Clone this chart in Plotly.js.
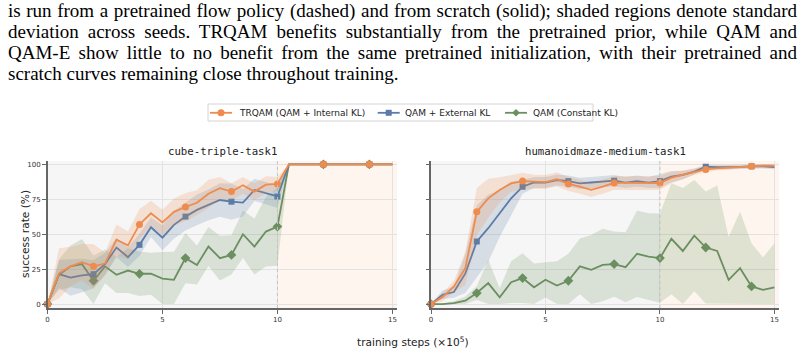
<!DOCTYPE html>
<html><head><meta charset="utf-8">
<script src="https://cdn.plot.ly/plotly-3.0.1.min.js"></script>
<style>
html,body{margin:0;padding:0;background:#fff;}
#wrap{position:relative;width:804px;height:353px;overflow:hidden;}
#chart{position:absolute;left:0;top:0;width:804px;height:353px;}
#cap{position:absolute;left:8px;top:0px;font-family:"Liberation Serif","Times New Roman",serif;font-size:19px;line-height:21px;color:#000;z-index:5;pointer-events:none;transform-origin:0 0;}
#cap div{white-space:nowrap;}
</style></head><body>
<div id="wrap"><div id="chart"></div><div id="cap"></div></div>
<script>
// ---------- caption ----------
const captionLines = [
  "is run from a pretrained flow policy (dashed) and from scratch (solid); shaded regions denote standard",
  "deviation across seeds. TRQAM benefits substantially from the pretrained prior, while QAM and",
  "QAM-E show little to no benefit from the same pretrained initialization, with their pretrained and",
  "scratch curves remaining close throughout training."
];

// ---------- data ----------
const steps = [0,0.5,1,1.5,2,2.5,3,3.5,4,4.5,5,5.5,6,6.5,7,7.5,8,8.5,9,9.5,10,10.5,11,11.5,12,12.5,13,13.5,14,14.5,15];
const xTicks = [0,5,10,15];
const yTicks = [0,25,50,75,100];
const taskNames = ["cube-triple-task1","humanoidmaze-medium-task1"];
const methodNames = ["TRQAM (QAM + Internal KL)","QAM + External KL","QAM (Constant KL)"];

// cube-triple-task1
const cubeTRQAM    = [0,22,27,30,27,29,46,42,57,65,58.5,66,69.5,72.5,79,83,80.5,85,80.5,85.5,86,100,100,100,100,100,100,100,100,100,100];
const cubeTRQAMStd = [0,18,14,13,16,8,11,10,11,9,9,9.5,10,9,10,8,6,6,6,6,5,0,0,0,0,0,0,0,0,0,0];
const cubeExtKL    = [0,21.5,19,20.5,21.4,28.6,40.5,33.6,42.4,55,47.5,56.7,62.6,67.4,71,74.5,73.3,72.6,81.7,79.3,77,100,100,100,100,100,100,100,100,100,100];
const cubeExtKLStd = [0,10,13,12,10,8,7,7,8,7,9,10,10,11,11,12,13,10,8,8,8,0,0,0,0,0,0,0,0,0,0];
const cubeConst    = [0,21,27,28.6,16.7,27,21,24,21.7,21.7,18.3,17.4,32.9,28,41.2,32.9,35.2,50,41.2,51.9,55.5,100,100,100,100,100,100,100,100,100,100];
const cubeConstStd = [0,11,15,18,18,12,13,16,16,15,19,20,18,14,14,16,14,17,20,25,28,0,0,0,0,0,0,0,0,0,0];

// humanoidmaze-medium-task1
const hmTRQAM    = [0,4.8,12.6,25.7,66,75.7,81.7,86.4,88,87.6,87.3,89.3,86,84,81.7,84,86.7,86.7,86.7,86.7,86.6,90.5,92.4,94.8,96.4,97.1,97.6,98,98.6,99,99];
const hmTRQAMStd = [0,3,4,12,17,14,9,6,6,5,5,5,5,5,5,5,5,5,5,5,5,4,3,2.5,2,1.5,1.5,1,1,1,1];
const hmExtKL    = [0,6.7,8.6,22,44.8,54.3,65,75.7,84,87,87,88.8,88,86.4,87,87.6,88.3,87,88,87,88,91.2,92.4,94.8,98.3,98,98,98.2,98.6,98.6,98];
const hmExtKLStd = [0,3,4,14,26,24,17,12,5,4,4,4,4,4,4,4,4,4,4,4,5,4,3,2,1.5,1.5,1.5,1.5,1.5,1.5,1.5];
const hmConst    = [0,0,0.7,2.4,7.9,15,4.8,15.7,18.6,12,17.4,13.3,16.7,27,24.5,28,28.6,26.4,36,34,32.9,46.7,38,49,40.5,38,17.4,25.7,12.6,10.2,12];
const hmConstStd = [0,0.5,1.5,3,5,16.7,6.6,15,17.8,17,12.6,17.4,19.3,20,25,26,23.4,25,31,31,32,39.7,45,39.8,40,46.8,30.6,40.3,31,23.2,31.6];

// ---------- styles ----------
const colors = ['#ee8b4d','#5a7ca6','#6b8f60'];
const fills  = ['rgba(238,139,77,0.2)','rgba(90,124,166,0.2)','rgba(107,143,96,0.2)'];
const symbols = ['circle','square','diamond'];
const msizes = [7,6,7.5];

// caption rendering: lines fitted to the column width, then justified
(function(){
  const cap = document.getElementById('cap');
  const target = 789;
  const spans = captionLines.map(t=>{
    const d = document.createElement('div');
    const s = document.createElement('span');
    s.textContent = t;
    d.appendChild(s);
    cap.appendChild(d);
    return s;
  });
  const widths = spans.map(s=>s.getBoundingClientRect().width);
  const maxW = Math.max(widths[0], widths[1], widths[2]);
  const scale = Math.min(1, target / (maxW + 12));
  cap.style.transform = 'scaleX(' + scale + ')';
  const inner = target / scale;
  spans.forEach((s,i)=>{
    if (i < spans.length-1) {
      const n = (captionLines[i].match(/ /g)||[]).length;
      s.style.wordSpacing = ((inner - widths[i])/n) + 'px';
    }
  });
})();

const traces = [];
function addMethod(m, mean, std, xa, ya){
  const up = mean.map((v,i)=>Math.min(100, v+std[i]));
  const lo = mean.map((v,i)=>Math.max(0, v-std[i]));
  traces.push({x: steps.concat(steps.slice().reverse()), y: up.concat(lo.slice().reverse()),
    type:'scatter', mode:'lines', fill:'toself', fillcolor: fills[m], line:{width:0},
    hoverinfo:'skip', showlegend:false, xaxis:xa, yaxis:ya});
  traces.push({x: steps, y: mean, type:'scatter', mode:'lines',
    line:{color:colors[m], width:1.8}, showlegend:false, xaxis:xa, yaxis:ya});
  const mx = steps.filter((v,i)=>i%4===0);
  const my = mean.filter((v,i)=>i%4===0);
  traces.push({x: mx, y: my, type:'scatter', mode:'markers', cliponaxis:false,
    marker:{color:colors[m], size:msizes[m], symbol:symbols[m], line:{width:0}},
    showlegend:false, xaxis:xa, yaxis:ya});
}
const cubeSets = [[cubeTRQAM,cubeTRQAMStd],[cubeExtKL,cubeExtKLStd],[cubeConst,cubeConstStd]];
const hmSets = [[hmTRQAM,hmTRQAMStd],[hmExtKL,hmExtKLStd],[hmConst,hmConstStd]];
[2,1,0].forEach(m=>addMethod(m, cubeSets[m][0], cubeSets[m][1], 'x','y'));
[2,1,0].forEach(m=>addMethod(m, hmSets[m][0], hmSets[m][1], 'x2','y2'));

const W = 804, H = 353;
const px = v => v / W, py = v => 1 - v / H;
const yDom = [py(308), py(161)];
const axBase = {showline:true, linecolor:'#666', linewidth:2, ticks:'outside', ticklen:3.5, tickwidth:1, tickcolor:'#666',
  showgrid:true, gridcolor:'#e2e2e2', gridwidth:1, zeroline:false, tickfont:{size:7, color:'#333', family:'DejaVu Sans'}};
const xr = [0,15.2], yr = [-2.8,102.4];

const shapes = [];
[['x','y'],['x2','y2']].forEach(([xa,ya])=>{
  shapes.push({type:'rect', xref:xa, yref:'paper', x0:10, x1:15.2, y0:yDom[0], y1:yDom[1], fillcolor:'#fdf5ee', line:{width:0}, layer:'below'});
  shapes.push({type:'line', xref:xa, yref:'paper', x0:10, x1:10, y0:yDom[0], y1:yDom[1], line:{color:'#c4c4c4', width:1, dash:'dot'}, layer:'above'});
});

// ---- legend drawn in paper space ----
const annotations = [];
shapes.push({type:'rect', xref:'paper', yref:'paper', x0:px(208), x1:px(593), y0:py(121), y1:py(104),
  fillcolor:'#ffffff', line:{color:'#d4d4d4', width:1}});
const legY = 112.8;
const legLineX = [210, 377.7, 505];
const legTextX = [236.5, 403.3, 531];
[0,1,2].forEach(m=>{
  const x0 = legLineX[m], x1 = x0 + 22, cx = (x0 + x1)/2;
  shapes.push({type:'line', xref:'paper', yref:'paper', x0:px(x0), x1:px(x1), y0:py(legY), y1:py(legY), line:{color:colors[m], width:1.8}});
  if (symbols[m]==='circle') {
    shapes.push({type:'circle', xref:'paper', yref:'paper', x0:px(cx-3.5), x1:px(cx+3.5), y0:py(legY+3.5), y1:py(legY-3.5), fillcolor:colors[m], line:{width:0}});
  } else if (symbols[m]==='square') {
    shapes.push({type:'rect', xref:'paper', yref:'paper', x0:px(cx-3), x1:px(cx+3), y0:py(legY+3), y1:py(legY-3), fillcolor:colors[m], line:{width:0}});
  } else {
    const r = 3.8;
    shapes.push({type:'path', xref:'paper', yref:'paper',
      path:`M ${px(cx)} ${py(legY-r)} L ${px(cx+r)} ${py(legY)} L ${px(cx)} ${py(legY+r)} L ${px(cx-r)} ${py(legY)} Z`,
      fillcolor:colors[m], line:{width:0}});
  }
  annotations.push({text:methodNames[m], xref:'paper', yref:'paper', x:px(legTextX[m]), y:py(legY), showarrow:false,
    xanchor:'left', yanchor:'middle', font:{family:'DejaVu Sans', size:9, color:'#222'}});
});

annotations.push(
  {text:taskNames[0], xref:'paper', yref:'paper', x:px((47.5+397)/2), y:py(151), showarrow:false,
    font:{family:'DejaVu Sans Mono', size:10.7, color:'#222'}, xanchor:'center', yanchor:'middle'},
  {text:taskNames[1], xref:'paper', yref:'paper', x:px((431+779)/2), y:py(151), showarrow:false,
    font:{family:'DejaVu Sans Mono', size:10.7, color:'#222'}, xanchor:'center', yanchor:'middle'},
  {text:'success rate (%)', xref:'paper', yref:'paper', x:px(25), y:py(234), showarrow:false, textangle:-90,
    font:{family:'DejaVu Sans', size:10.6, color:'#222'}, xanchor:'center', yanchor:'middle'},
  {text:'training steps (×10<sup>5</sup>)', xref:'paper', yref:'paper', x:px(413), y:py(341), showarrow:false,
    font:{family:'DejaVu Sans', size:10.6, color:'#222'}, xanchor:'center', yanchor:'middle'}
);

const layout = {
  width:W, height:H, margin:{l:0,r:0,t:0,b:0},
  paper_bgcolor:'#ffffff', plot_bgcolor:'#f6f6f6',
  font:{family:'DejaVu Sans', size:7, color:'#333'},
  showlegend:false,
  xaxis: Object.assign({}, axBase, {domain:[px(47.5), px(397)], range:xr, tickvals:xTicks, anchor:'y'}),
  yaxis: Object.assign({}, axBase, {domain:yDom, range:yr, tickvals:yTicks, anchor:'x'}),
  xaxis2: Object.assign({}, axBase, {domain:[px(431), px(779)], range:xr, tickvals:xTicks, anchor:'y2'}),
  yaxis2: Object.assign({}, axBase, {domain:yDom, range:yr, tickvals:yTicks, anchor:'x2', showticklabels:false}),
  shapes: shapes,
  annotations: annotations
};
Plotly.newPlot('chart', traces, layout, {displayModeBar:false, staticPlot:true});
</script>
</body></html>
